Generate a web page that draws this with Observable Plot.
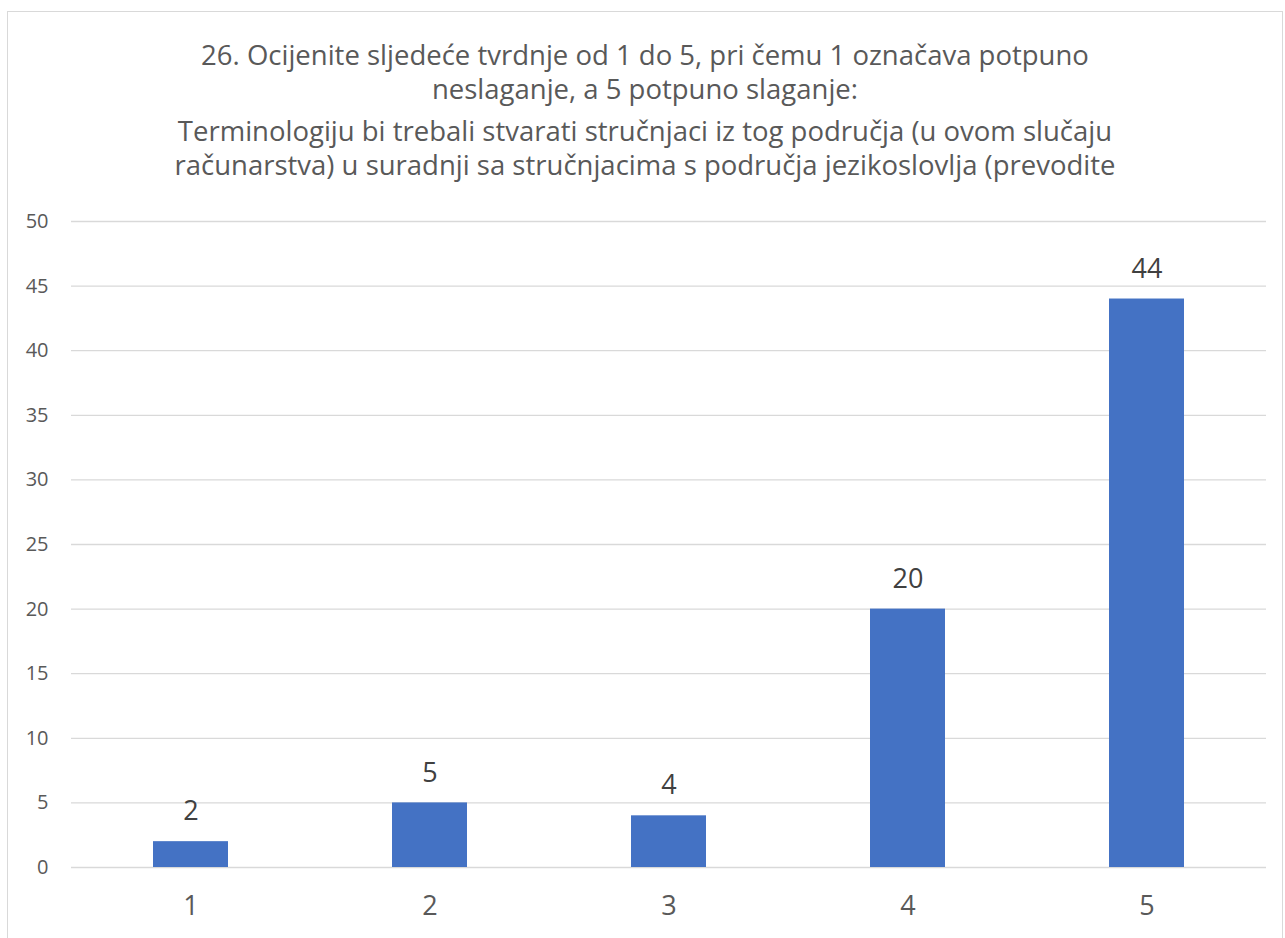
<!DOCTYPE html>
<html>
<head>
<meta charset="utf-8">
<script src="https://cdn.jsdelivr.net/npm/d3@7"></script>
<script src="https://cdn.jsdelivr.net/npm/@observablehq/plot@0.6"></script>
<style>
  html, body { margin: 0; padding: 0; background: #fff; overflow: hidden; }
  #frame { position: absolute; left: 7px; top: 11px; width: 1276px; height: 940px; border: 1px solid #d9d9d9; box-sizing: border-box; }
  #title { position: absolute; left: 7px; top: 38px; width: 1276px; text-align: center; font-family: "Open Sans", sans-serif; color: #595959; font-size: 27.5px; line-height: 34px; }
  #title .block2 { margin-top: 8px; }
  #chart { position: absolute; left: 0; top: 190px; }
</style>
</head>
<body>
<div id="frame"></div>
<div id="title">
  <div class="block1">26. Ocijenite sljedeće tvrdnje od 1 do 5, pri čemu 1 označava potpuno<br>neslaganje, a 5 potpuno slaganje:</div>
  <div class="block2">Terminologiju bi trebali stvarati stručnjaci iz tog područja (u ovom slučaju<br>računarstva) u suradnji sa stručnjacima s područja jezikoslovlja (prevodite</div>
</div>
<div id="chart"></div>
<script>
const categories = ["1", "2", "3", "4", "5"];
const values = [2, 5, 4, 20, 44];
const yTicks = [0, 5, 10, 15, 20, 25, 30, 35, 40, 45, 50];

const data = categories.map((c, i) => ({ category: c, value: values[i] }));

const chart = Plot.plot({
  width: 1285,
  height: 750,
  marginLeft: 71,
  marginRight: 19,
  marginTop: 31,
  marginBottom: 73,
  style: { fontFamily: "'Open Sans', sans-serif", background: "transparent" },
  x: { domain: categories, paddingInner: 0.686, paddingOuter: 0.343, align: 0.5, label: null },
  y: { domain: [0, 50], label: null },
  marks: [
    Plot.ruleY(yTicks, { stroke: "#d9d9d9", strokeWidth: 1.3 }),
    Plot.barY(data, { x: "category", y: "value", fill: "#4472C4" }),
    Plot.text(data, { x: "category", y: "value", text: d => String(d.value), dy: -30, fontSize: 27, fill: "#404040" }),
    Plot.axisY(yTicks, { tickSize: 0, tickPadding: 23, fontSize: 20, color: "#595959", label: null }),
    Plot.axisX({ tickSize: 0, tickPadding: 28, fontSize: 27, color: "#595959", label: null })
  ]
});
document.getElementById("chart").appendChild(chart);
</script>
</body>
</html>
